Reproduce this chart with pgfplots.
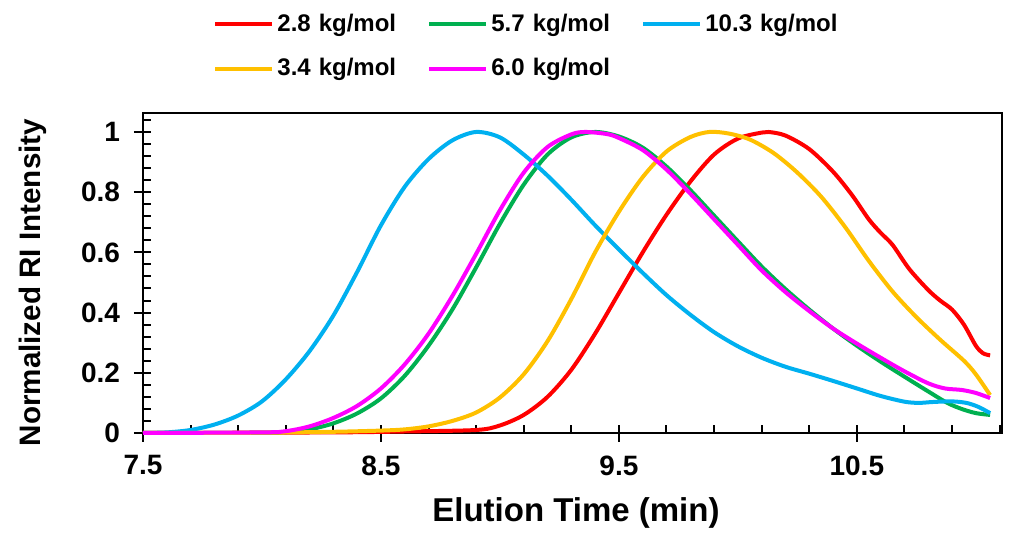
\documentclass[border=0pt]{standalone}
\usepackage{fontspec}
\setmainfont{Liberation Sans}
\usepackage{pgfplots}
\pgfplotsset{compat=1.18}

\definecolor{cRed}{HTML}{FF0000}
\definecolor{cYel}{HTML}{FFC000}
\definecolor{cGrn}{HTML}{00B050}
\definecolor{cBlu}{HTML}{00B0F0}
\definecolor{cMag}{HTML}{FF00FF}

\begin{document}
\begin{tikzpicture}
\begin{axis}[
    at={(71.5pt,50.5pt)}, anchor=south west,
    scale only axis,
    width=429.5pt, height=160pt,
    xmin=7.5, xmax=11.11,
    ymin=0, ymax=1.063,
    xtick={7.5,8.5,9.5,10.5},
    ytick={0,0.2,...,1},
    minor xtick={7.7,7.9,...,11.1},
    minor ytick={0.04,0.08,...,1.05},
    xtick pos=bottom, ytick pos=left,
    tick align=inside,
    major tick length=3.5pt, minor tick length=4pt,
    extra x ticks={7.5,8.5,9.5,10.5}, extra x tick labels={},
    extra y ticks={0,0.2,0.4,0.6,0.8,1}, extra y tick labels={},
    extra x tick style={tick align=outside, major tick length=4.5pt},
    extra y tick style={tick align=outside, major tick length=4.5pt},
    every tick/.style={black, line width=1pt},
    axis line style={line width=1pt},
    /pgf/number format/assume math mode=true,
    tick label style={font=\fontsize{14}{16}\selectfont\bfseries},
    xticklabel style={yshift=-7.8pt},
    yticklabel style={xshift=-8pt},
    xlabel={Elution Time (min)},
    ylabel={Normalized RI Intensity},
    xlabel style={font=\fontsize{16.5}{19}\selectfont\bfseries,
        at={(axis description cs:0.504,-0.25)}, anchor=center},
    ylabel style={font=\fontsize{14.8}{17}\selectfont\bfseries,
        at={(axis description cs:-0.128,0.47)}, anchor=center},
    clip=false,
    legend style={draw=none, fill=none, inner sep=0pt,
        at={(axis description cs:0.0815,1.32)}, anchor=north west,
        font=\fontsize{12}{14}\selectfont\bfseries,
        /tikz/every even column/.append style={column sep=3.5pt},
        row sep=9pt, nodes={inner sep=1.5pt, text width=70pt, align=left}},
    legend columns=3,
    legend cell align=left,
    legend image code/.code={\draw[#1, line width=2pt] (0pt,0pt) -- (28.5pt,0pt);},
    every axis plot/.append style={line width=2pt, smooth, tension=0.5},
]
% 2.8 kg/mol
\addplot[cRed] coordinates {
(7.5,0) (8.3,0.002) (8.6,0.005) (8.9,0.01) (9.0,0.025) (9.1,0.06)
(9.2,0.12) (9.3,0.21) (9.4,0.33) (9.5,0.465) (9.6,0.6) (9.7,0.725)
(9.8,0.835) (9.9,0.925) (10.0,0.978) (10.1,0.998) (10.13,1.0)
(10.2,0.988) (10.3,0.943) (10.4,0.868) (10.48,0.79) (10.55,0.71)
(10.6,0.665) (10.65,0.625) (10.72,0.545) (10.8,0.475) (10.85,0.44)
(10.9,0.41) (10.95,0.36) (11.0,0.29) (11.03,0.265) (11.06,0.258)
};
% 5.7 kg/mol
\addplot[cGrn] coordinates {
(7.5,0) (8.0,0.001) (8.1,0.003) (8.2,0.012) (8.3,0.032) (8.4,0.065)
(8.5,0.115) (8.6,0.19) (8.7,0.29) (8.8,0.41) (8.9,0.55) (9.0,0.695)
(9.1,0.825) (9.2,0.925) (9.3,0.982) (9.4,1.0) (9.5,0.985) (9.6,0.948)
(9.7,0.885) (9.8,0.807) (9.9,0.722) (10.0,0.637) (10.1,0.553)
(10.2,0.478) (10.3,0.41) (10.4,0.347) (10.5,0.29) (10.6,0.237)
(10.7,0.187) (10.8,0.138) (10.88,0.1) (10.94,0.08) (11.0,0.066)
(11.06,0.06)
};
% 10.3 kg/mol
\addplot[cBlu] coordinates {
(7.5,0) (7.6,0.002) (7.7,0.01) (7.8,0.028) (7.9,0.058) (8.0,0.105)
(8.1,0.178) (8.2,0.272) (8.3,0.39) (8.4,0.535) (8.5,0.69) (8.6,0.818)
(8.7,0.91) (8.8,0.972) (8.9,1.0) (9.0,0.982) (9.1,0.925) (9.2,0.855)
(9.3,0.775) (9.4,0.69) (9.5,0.61) (9.6,0.532) (9.7,0.458) (9.8,0.393)
(9.9,0.335) (10.0,0.288) (10.1,0.25) (10.2,0.22) (10.3,0.197)
(10.4,0.173) (10.5,0.148) (10.6,0.123) (10.7,0.104) (10.76,0.1)
(10.82,0.103) (10.9,0.105) (10.96,0.1) (11.01,0.087) (11.06,0.066)
};
% 3.4 kg/mol
\addplot[cYel] coordinates {
(7.5,0) (8.0,0.001) (8.3,0.004) (8.5,0.008) (8.6,0.012) (8.7,0.022)
(8.8,0.04) (8.9,0.068) (9.0,0.118) (9.1,0.195) (9.2,0.305) (9.3,0.445)
(9.4,0.6) (9.5,0.735) (9.6,0.85) (9.7,0.935) (9.8,0.983) (9.88,1.0)
(9.96,0.995) (10.05,0.975) (10.15,0.93) (10.25,0.865) (10.35,0.785)
(10.45,0.685) (10.55,0.572) (10.65,0.47) (10.75,0.385) (10.85,0.31)
(10.95,0.24) (11.0,0.195) (11.06,0.126)
};
% 6.0 kg/mol
\addplot[cMag] coordinates {
(7.5,0) (8.0,0.002) (8.1,0.006) (8.2,0.022) (8.3,0.05) (8.4,0.09)
(8.5,0.148) (8.6,0.228) (8.7,0.33) (8.8,0.455) (8.9,0.595) (9.0,0.74)
(9.1,0.865) (9.2,0.95) (9.3,0.992) (9.36,1.0) (9.45,0.993) (9.5,0.98)
(9.6,0.94) (9.7,0.875) (9.8,0.795) (9.9,0.71) (10.0,0.625) (10.1,0.54)
(10.2,0.468) (10.3,0.405) (10.4,0.347) (10.5,0.297) (10.6,0.25)
(10.7,0.205) (10.8,0.165) (10.87,0.148) (10.94,0.143) (11.0,0.133)
(11.06,0.116)
};
\legend{2.8 kg/mol, 5.7 kg/mol, 10.3 kg/mol, 3.4 kg/mol, 6.0 kg/mol}
\end{axis}
\pgfresetboundingbox
\path[use as bounding box] (0,0) rectangle (506.5pt,267pt);
\end{tikzpicture}
\end{document}
